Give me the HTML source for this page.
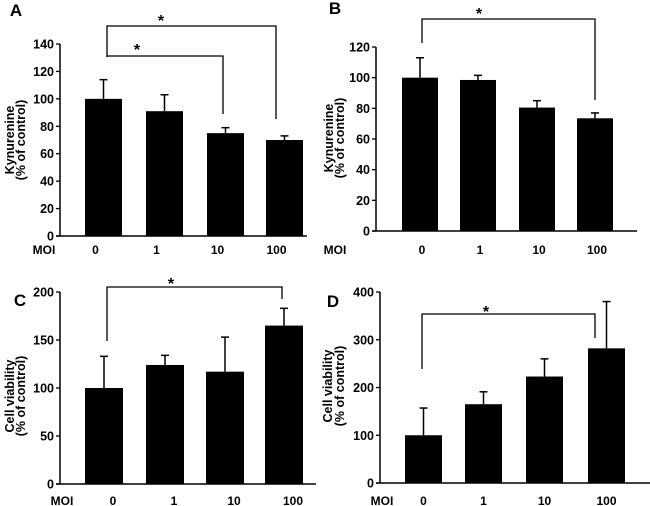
<!DOCTYPE html>
<html><head><meta charset="utf-8"><style>
body{margin:0;background:#fff;}
svg{display:block;font-family:"Liberation Sans",Arial,sans-serif;font-weight:bold;}
</style></head><body>
<svg id="fig" width="650" height="506" viewBox="0 0 650 506"></svg>
<script>
const categories = ["0","1","10","100"];
const valuesA = [100, 91, 75, 70];
const errorsA = [14, 12, 4, 3];
const valuesB = [100, 98.5, 80.5, 73.5];
const errorsB = [13, 3, 4.5, 3.5];
const valuesC = [100, 124, 117, 165];
const errorsC = [33, 10, 36, 18];
const valuesD = [100, 165, 223, 282];
const errorsD = [57, 26, 37, 98];
const ticksA = [0,20,40,60,80,100,120,140];
const ticksB = [0,20,40,60,80,100,120];
const ticksC = [0,50,100,150,200];
const ticksD = [0,100,200,300,400];

const NS="http://www.w3.org/2000/svg";
const svg=document.getElementById('fig');
function mk(tag,attrs,parent){const e=document.createElementNS(NS,tag);for(const k in attrs)e.setAttribute(k,attrs[k]);(parent||svg).appendChild(e);return e;}

const panels=[
 {id:'a',letter:'A',lx:16,ly:16,ax:60,y0:236,yTop:44,vmax:140,xEnd:307,bars:[85,146,207,266],bw:37,labOff:-8,labY:254,moiX:44,
  vals:valuesA,errs:errorsA,ticks:ticksA,t1:'Kynurenine',t1x:10,t2x:21,ty:140,
  brackets:[{y:26,x1:107,x2:276,l:57,r:119,sx:161,sy:20},{y:56,x1:107,x2:223,l:57,r:114,sx:137,sy:49}]},
 {id:'b',letter:'B',lx:335,ly:14,ax:376,y0:231,yTop:47,vmax:120,xEnd:637,bars:[402,460,519,577],bw:36,labOff:2,labY:254,moiX:335,
  vals:valuesB,errs:errorsB,ticks:ticksB,t1:'Kynurenine',t1x:329,t2x:340,ty:138,
  brackets:[{y:19,x1:422,x2:595,l:43,r:100,sx:479,sy:13}]},
 {id:'c',letter:'C',lx:20,ly:306,ax:60,y0:484,yTop:292,vmax:200,xEnd:316,bars:[85,146,206,265],bw:38,labOff:9,labY:505,moiX:62,
  vals:valuesC,errs:errorsC,ticks:ticksC,t1:'Cell viability',t1x:10,t2x:21,ty:396,
  brackets:[{y:287,x1:107,x2:282,l:341,r:299,sx:171,sy:283}]},
 {id:'d',letter:'D',lx:333,ly:307,ax:380,y0:483,yTop:292,vmax:400,xEnd:650,bars:[405,465,526,588],bw:37,labOff:0,labY:505,moiX:382,
  vals:valuesD,errs:errorsD,ticks:ticksD,t1:'Cell viability',t1x:328,t2x:340,ty:386,
  brackets:[{y:314,x1:422,x2:595,l:369,r:338,sx:486,sy:311}]}
];

panels.forEach(p=>{
  const g=mk('g',{});
  
  
  const yS=v=>p.y0-(v/p.vmax)*(p.y0-p.yTop);
  const L=mk('text',{x:p.lx,y:p.ly,'font-size':17,'text-anchor':'middle',fill:'#000'},g);L.textContent=p.letter;
  
  
  // axes
  const ya=mk('line',{x1:p.ax,y1:p.yTop,x2:p.ax,y2:p.y0,stroke:'#000','stroke-width':1.5},g);
  
  
  const xa=mk('line',{x1:p.ax-4,y1:p.y0,x2:p.xEnd,y2:p.y0,stroke:'#000','stroke-width':1.5},g);
  
  
  p.ticks.forEach(t=>{
    const y=yS(t);
    mk('line',{x1:p.ax-4,y1:y,x2:p.ax,y2:y,stroke:'#000','stroke-width':1.3},g);
    const tl=mk('text',{x:p.ax-6,y:y+4.5,'font-size':12.5,'text-anchor':'end',fill:'#000'},g);tl.textContent=t;
    
    
  });
  // y title
  const tt=mk('text',{transform:`translate(${p.t1x+4},${p.ty}) rotate(-90)`,'font-size':12.5,'text-anchor':'middle',fill:'#000'},g);
  tt.textContent=p.t1;
  
  
  const tt2=mk('text',{transform:`translate(${p.t2x+4},${p.ty}) rotate(-90)`,'font-size':12.5,'text-anchor':'middle',fill:'#000'},g);
  tt2.textContent='(% of control)';
  
  
  // MOI
  const m=mk('text',{x:p.moiX,y:p.labY,'font-size':12,'text-anchor':'middle',fill:'#000'},g);m.textContent='MOI';
  
  
  categories.forEach((c,i)=>{
    const x=p.bars[i],cx=x+p.bw/2;
    const top=yS(p.vals[i]),et=yS(p.vals[i]+p.errs[i]);
    mk('line',{x1:cx,y1:top,x2:cx,y2:et,stroke:'#000','stroke-width':1.5},g);
    mk('line',{x1:cx-4,y1:et,x2:cx+4,y2:et,stroke:'#000','stroke-width':1.5},g);
    const r=mk('rect',{x:x,y:top,width:p.bw,height:p.y0-top,fill:'#000'},g);
    
    
    const cl=mk('text',{x:cx+p.labOff,y:p.labY,'font-size':12,'text-anchor':'middle',fill:'#000'},g);cl.textContent=c;
    
    
  });
  p.brackets.forEach(b=>{
    const pl=mk('polyline',{points:`${b.x1},${b.l} ${b.x1},${b.y} ${b.x2},${b.y} ${b.x2},${b.r}`,fill:'none',stroke:'#000','stroke-width':1.3},g);
    
    
    const s=mk('text',{x:b.sx,y:b.sy+6,'font-size':16,'text-anchor':'middle',fill:'#000'},g);s.textContent='*';
    
    
  });
});
</script>
</body></html>
